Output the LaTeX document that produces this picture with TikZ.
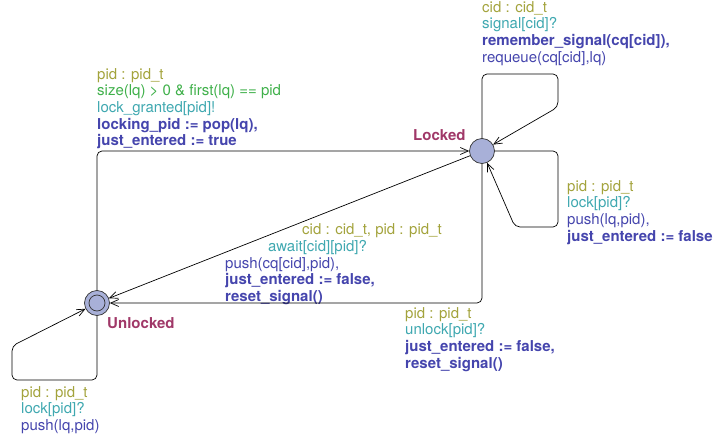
\documentclass[tikz,border=0pt]{standalone}
\usepackage{fontspec}
\setmainfont{TeX Gyre Heros}
\usetikzlibrary{arrows.meta}
\definecolor{selc}{HTML}{A3A33C}
\definecolor{guardc}{HTML}{3FB04A}
\definecolor{syncc}{HTML}{3FA8B0}
\definecolor{updc}{HTML}{4545AD}
\definecolor{namec}{HTML}{A03868}
\definecolor{locfill}{HTML}{A8B0D8}
\newcommand{\sel}[1]{{\color{selc}#1}}
\newcommand{\grd}[1]{{\color{guardc}#1}}
\newcommand{\syn}[1]{{\color{syncc}#1}}
\newcommand{\upd}[1]{{\color{updc}#1}}
\newcommand{\updb}[1]{{\color{updc}\bfseries #1}}
\begin{document}
\begin{tikzpicture}[x=1pt,y=-1pt,
  loc/.style={circle, draw=black!80, fill=locfill, line width=0.7pt, minimum size=25pt, inner sep=0pt},
  edge/.style={draw=black, line width=0.7pt, rounded corners=5pt, -{Straight Barb[length=8pt,width=7pt,line width=0.7pt]}},
  lbl/.style={anchor=north west, inner sep=0pt, align=left, font=\fontsize{15}{16.6}\selectfont},
  locname/.style={anchor=base west, inner sep=0pt, font=\fontsize{15}{16}\selectfont\bfseries, text=namec}]
\useasboundingbox (0,0) rectangle (713,439);

% locations
\node[loc] (L) at (482,151) {};
\node[loc] (U) at (97,303) {};
\draw[black!80, line width=0.7pt] (U) circle (8pt);
\node[locname] (Lname) at (413,140) {Locked};
\node[locname] (Uname) at (107,328) {Unlocked};

% Unlocked -> Locked : grant the lock
\draw[edge] (U) |- (L);
\node[lbl] (lgrant) at (97,68.2) {\sel{pid : pid\_t}\\\grd{size(lq) > 0 \& first(lq) == pid}\\\syn{lock\_granted[pid]!}\\\updb{locking\_pid := pop(lq),}\\\updb{just\_entered := true}};

% Locked -> Unlocked : await
\draw[edge] (L) -- (U);
\node[lbl] (awsel) at (302,223.5) {\sel{cid : cid\_t, pid : pid\_t}};
\node[lbl] (awsyn) at (268,240.2) {\syn{await[cid][pid]?}};
\node[lbl] (awupd) at (225,257) {\upd{push(cq[cid],pid),}\\\updb{just\_entered := false,}\\\updb{reset\_signal()}};

% Locked -> Unlocked : unlock
\draw[edge] (L) |- (U);
\node[lbl] (lunlock) at (405,307.2) {\sel{pid : pid\_t}\\\syn{unlock[pid]?}\\\updb{just\_entered := false,}\\\updb{reset\_signal()}};

% Locked self loop : signal
\draw[edge] (L) -- (482,74) -- (558,74) -- (558,107) -- (L);
\node[lbl] (lsignal) at (482,1.2) {\sel{cid : cid\_t}\\\syn{signal[cid]?}\\\updb{remember\_signal(cq[cid]),}\\\upd{requeue(cq[cid],lq)}};

% Locked self loop : lock while held
\draw[edge] (L) -- (558,151) -- (558,227) -- (515,227) -- (L);
\node[lbl] (llock) at (567,180.2) {\sel{pid : pid\_t}\\\syn{lock[pid]?}\\\upd{push(lq,pid),}\\\updb{just\_entered := false}};

% Unlocked self loop : lock request
\draw[edge] (U) -- (97,380) -- (12,380) -- (12,346) -- (U);
\node[lbl] (ulock) at (21,386.2) {\sel{pid : pid\_t}\\\syn{lock[pid]?}\\\upd{push(lq,pid)}};
\end{tikzpicture}
\end{document}
